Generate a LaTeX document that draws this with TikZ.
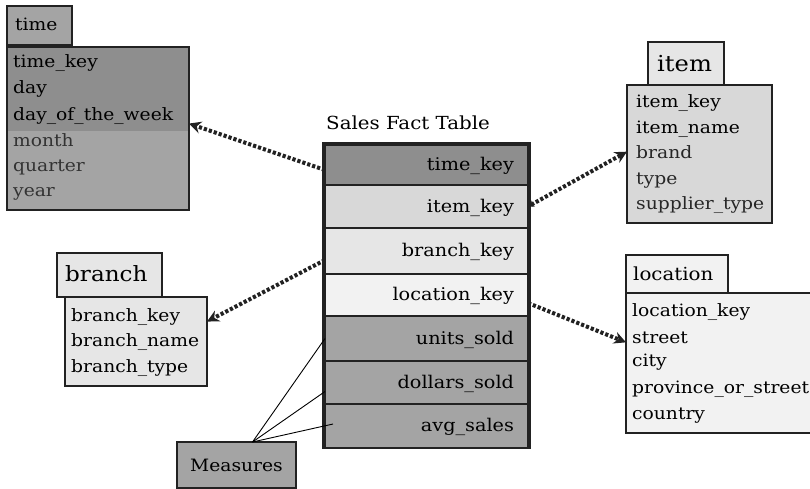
\documentclass[tikz,border=0pt]{standalone}
\usepackage{fontspec}
\setmainfont{DejaVu Serif}[FakeStretch=1.1]
\usetikzlibrary{arrows.meta}
\definecolor{cdark}{HTML}{8E8E8E}
\definecolor{cmid}{HTML}{A4A4A4}
\definecolor{clight}{HTML}{D8D8D8}
\definecolor{cpale}{HTML}{E6E6E6}
\definecolor{cwhite}{HTML}{F2F2F2}
\definecolor{cline}{HTML}{222222}
\tikzset{
  tbox/.style={draw=cline, line width=1.4pt, anchor=north west, inner sep=0pt, outer sep=0pt},
  ttitle/.style={anchor=base west, inner sep=0pt, font=\fontsize{17}{17}\selectfont},
  fieldtxt/.style={anchor=base west, inner sep=0pt, font=\fontsize{17}{17}\selectfont},
  factrow/.style={draw=cline, line width=1.1pt, minimum width=203pt, text width=175pt, align=right,
     inner xsep=14pt, outer sep=0pt, text height=13pt, text depth=2pt, font=\fontsize{17.5}{17.5}\selectfont},
  dotlink/.style={draw=cline, line width=4pt, dash pattern=on 3.2pt off 2pt},
  bigtip/.style={-{Stealth[length=12pt,width=12pt]}},
  measline/.style={draw=black, line width=0.9pt}
}
\begin{document}
\begin{tikzpicture}[x=1pt,y=-1pt]
\useasboundingbox[fill=white] (0,0) rectangle (810,488);

% ---------- time ----------
\node[tbox, fill=cmid, minimum width=65pt, minimum height=39pt] (ttitlebox) at (7,6) {};
\node[ttitle] (ttitle) at (15,30) {time};
\node[tbox, fill=cmid, minimum width=182pt, minimum height=163pt] (tbody) at (7,47) {};
\fill[cdark] (7.7,47.7) rectangle (188.3,131);
\draw[cline, line width=1.4pt] (tbody.north west) rectangle (tbody.south east);
\node[fieldtxt] (tkey) at (13,67) {time\_key};
\node[fieldtxt] (tday) at (13,93) {day};
\node[fieldtxt] (tdow) at (13,120) {day\_of\_the\_week};
\node[fieldtxt, text=black!80] (tmonth) at (13,146) {month};
\node[fieldtxt, text=black!80] (tquarter) at (13,171) {quarter};
\node[fieldtxt, text=black!80] (tyear) at (13,196) {year};

% ---------- fact table ----------
\node[anchor=base, inner sep=0pt, font=\fontsize{18}{18}\selectfont] (facttitle) at (408,129) {Sales Fact Table};
\node[tbox, fill=white, minimum width=207pt, minimum height=305pt] (fact) at (323,143) {};
\node[factrow, fill=cdark, minimum height=40pt] (ftime) at (426.5,165) {time\_key};
\node[factrow, fill=clight, minimum height=43pt] (fitem) at (426.5,206.5) {item\_key};
\node[factrow, fill=cpale, minimum height=46pt] (fbranch) at (426.5,251) {branch\_key};
\node[factrow, fill=cwhite, minimum height=42pt] (floc) at (426.5,295) {location\_key};
\node[factrow, fill=cmid, minimum height=45pt] (funits) at (426.5,338.5) {units\_sold};
\node[factrow, fill=cmid, minimum height=43pt] (fdollars) at (426.5,382.5) {dollars\_sold};
\node[factrow, fill=cmid, minimum height=44pt] (favg) at (426.5,426) {avg\_sales};
\draw[cline, line width=1.4pt] (fact.north west) rectangle (fact.south east);
\draw[cline, line width=2.4pt] (fact.west |- 0,185) -- (fact.east |- 0,185);
\draw[cline, line width=2.4pt] (fact.west |- 0,316) -- (fact.east |- 0,316);

% ---------- item ----------
\node[tbox, fill=cpale, minimum width=76pt, minimum height=43pt] (ititlebox) at (648,42) {};
\node[ttitle, font=\fontsize{22}{22}\selectfont] (ititle) at (657,71) {item};
\node[tbox, fill=clight, minimum width=145pt, minimum height=138pt] (ibody) at (627,85) {};
\node[fieldtxt, text=black] (ikey) at (636,107) {item\_key};
\node[fieldtxt, text=black] (iname) at (636,133) {item\_name};
\node[fieldtxt, text=black!85] (ibrand) at (636,158) {brand};
\node[fieldtxt, text=black!85] (itype) at (636,184) {type};
\node[fieldtxt, text=black!85] (isupp) at (636,209) {supplier\_type};

% ---------- branch ----------
\node[tbox, fill=cpale, minimum width=105pt, minimum height=44pt] (btitlebox) at (57,253) {};
\node[ttitle, font=\fontsize{21}{21}\selectfont] (btitle) at (65,281) {branch};
\node[tbox, fill=cpale, minimum width=142pt, minimum height=89pt] (bbody) at (65,297) {};
\node[fieldtxt] (bkey) at (71,321) {branch\_key};
\node[fieldtxt] (bname) at (71,346) {branch\_name};
\node[fieldtxt] (btype) at (71,372) {branch\_type};

% ---------- location ----------
\node[tbox, fill=cwhite, minimum width=102pt, minimum height=38pt] (ltitlebox) at (626,255) {};
\node[ttitle, font=\fontsize{18}{18}\selectfont] (ltitle) at (633,280) {location};
\node[tbox, fill=cwhite, minimum width=190pt, minimum height=140pt] (lbody) at (626,293) {};
\node[fieldtxt] (lkey) at (632,316) {location\_key};
\node[fieldtxt] (lstreet) at (632,343) {street};
\node[fieldtxt] (lcity) at (632,366) {city};
\node[fieldtxt] (lprov) at (632,393) {province\_or\_street};
\node[fieldtxt] (lcountry) at (632,419) {country};

% ---------- measures ----------
\node[tbox, fill=cmid, minimum width=119pt, minimum height=46pt] (meas) at (177,442) {};
\node[anchor=center, inner sep=0pt, font=\fontsize{17}{17}\selectfont] (meastxt) at (meas.center) {Measures};
\coordinate (mtop) at ([xshift=16pt]meas.north);
\draw[measline] (mtop) -- (funits.west);
\draw[measline] (mtop) -- ([yshift=-9pt]fdollars.west);
\draw[measline] (mtop) -- ([xshift=8pt,yshift=2pt]favg.west);

% ---------- dotted links ----------
\draw[dotlink, bigtip] ([yshift=-5pt]ftime.west) -- ([yshift=-8pt]tbody.east |- tdow);
\draw[dotlink, {Stealth[length=6pt,width=7pt]}-{Stealth[length=12pt,width=12pt]}] (fitem.east) -- (ibody.west |- ibrand);
\draw[dotlink, bigtip] ([yshift=-9pt]fbranch.west) -- ([yshift=-5pt]bbody.east |- bkey);
\draw[dotlink, bigtip] ([yshift=-8pt]floc.east) -- ([yshift=-5pt]lbody.west |- lstreet);
\end{tikzpicture}
\end{document}
